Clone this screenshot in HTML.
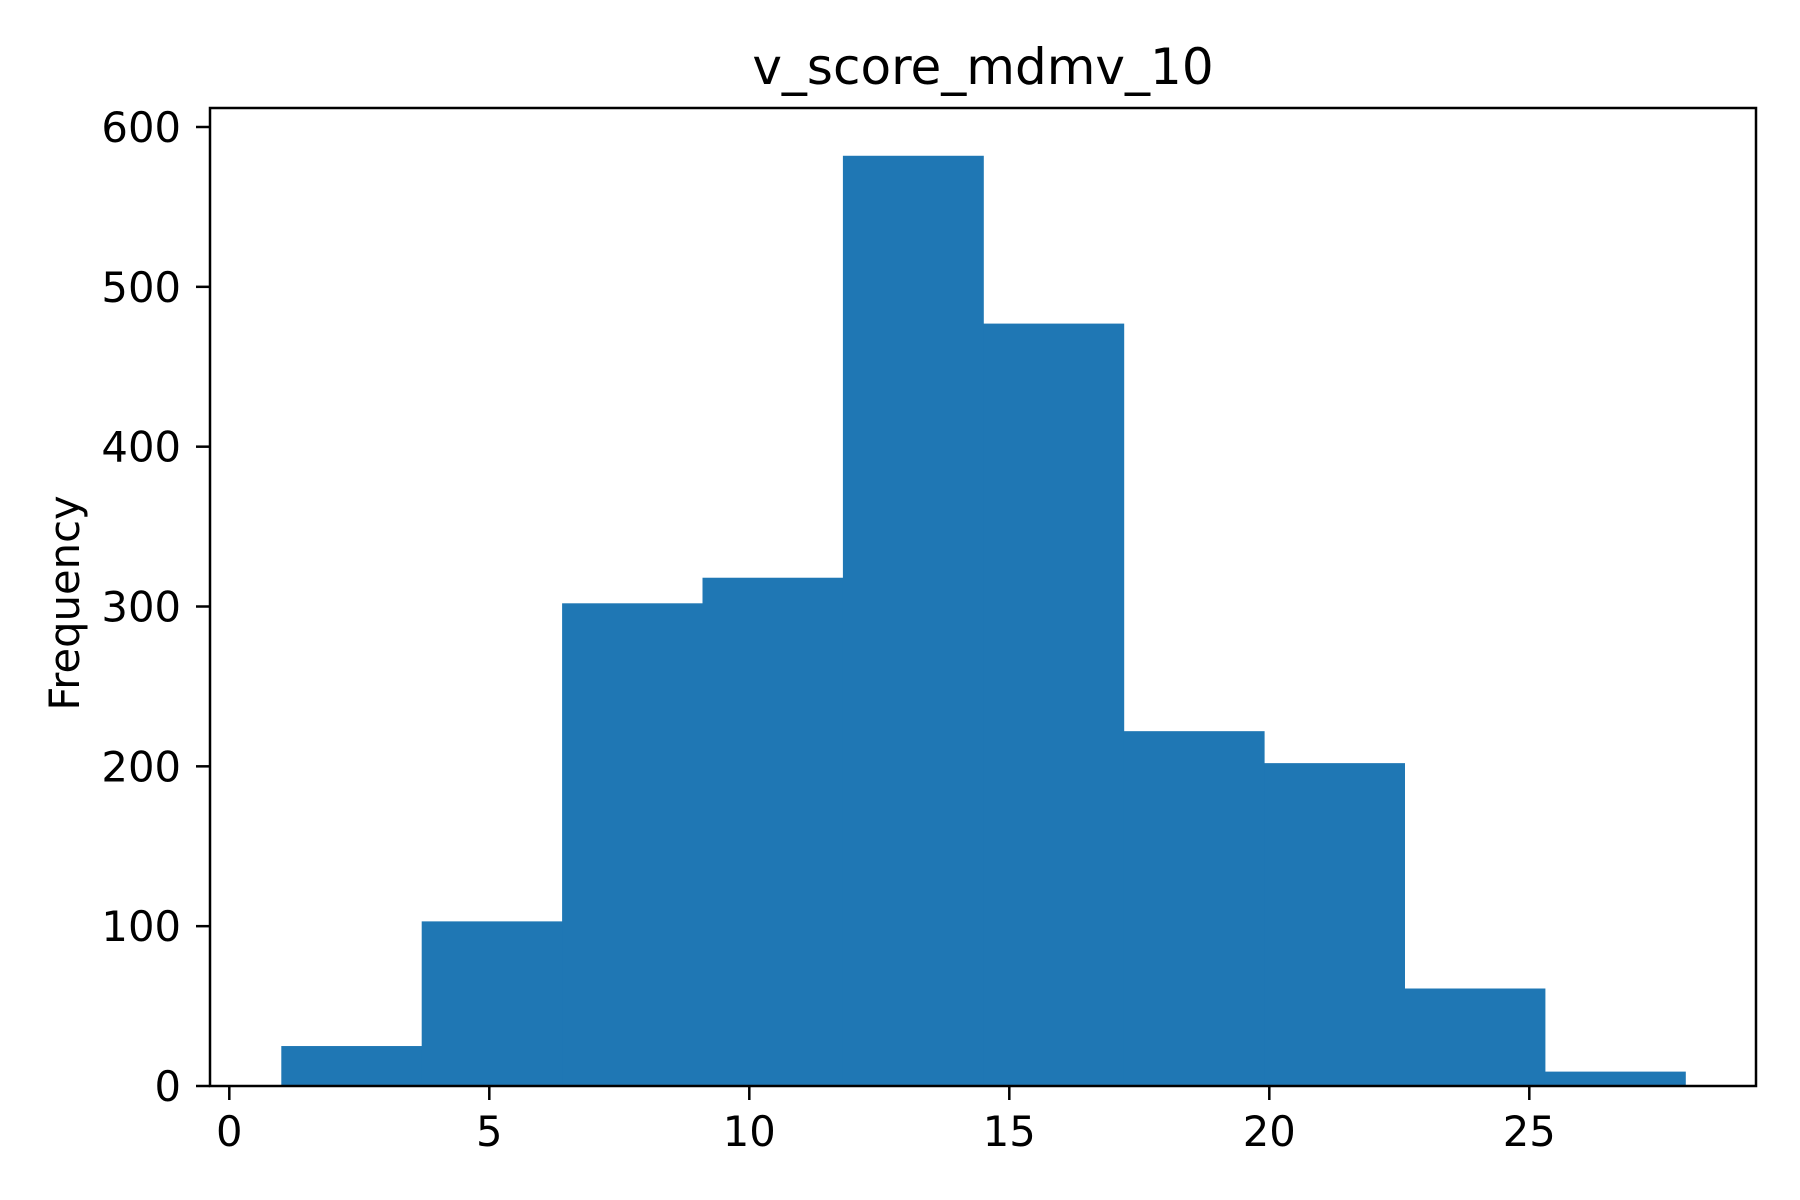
<!DOCTYPE html>
<html><head><meta charset="utf-8"><style>
html,body{margin:0;padding:0;background:#fff;}
svg{display:block;font-family:"DejaVu Sans","Liberation Sans",sans-serif;}
</style></head><body>
<svg id="chart" width="1800" height="1200" viewBox="0 0 1800 1200">
<rect x="0" y="0" width="1800" height="1200" fill="#fff"/>
<text x="983" y="84" font-size="50" text-anchor="middle">v_score_mdmv_10</text>
<text transform="translate(79,603) rotate(-90)" font-size="41.7" text-anchor="middle">Frequency</text>
<g id="bars"></g>
<g id="axes"></g>
</svg>
<script>
const binEdges = [1, 3.7, 6.4, 9.1, 11.8, 14.5, 17.2, 19.9, 22.6, 25.3, 28];
const counts = [25, 103, 302, 318, 582, 477, 222, 202, 61, 9];
const xTicks = [0, 5, 10, 15, 20, 25];
const yTicks = [0, 100, 200, 300, 400, 500, 600];

const L = 210, R = 1756, T = 108, B = 1086;
const x = v => 229.3 + (v - 0) * 52;
const y = v => B - v * (B - 127) / 600;
const NS = 'http://www.w3.org/2000/svg';
const bars = document.getElementById('bars');
const axes = document.getElementById('axes');
function mk(tag, attrs, parent) {
  const e = document.createElementNS(NS, tag);
  for (const k in attrs) e.setAttribute(k, attrs[k]);
  parent.appendChild(e);
  return e;
}
counts.forEach((c, i) => {
  const r = mk('rect', {x: x(binEdges[i]), y: y(c), width: x(binEdges[i+1]) - x(binEdges[i]) + 0.5, height: B - y(c), fill: '#1f77b4'}, bars);
  
  
});
const frame = mk('rect', {x: L, y: T, width: R - L, height: B - T, fill: 'none', stroke: '#000', 'stroke-width': 2.5}, axes);


xTicks.forEach(t => {
  const px = x(t);
  const l = mk('line', {x1: px, x2: px, y1: B, y2: B + 14, stroke: '#000', 'stroke-width': 2.5}, axes);
  
  
  const tx = mk('text', {x: px, y: 1146, 'font-size': 41.7, 'text-anchor': 'middle'}, axes);
  tx.textContent = t;
  
  
});
yTicks.forEach(t => {
  const py = y(t);
  const l = mk('line', {x1: L - 14, x2: L, y1: py, y2: py, stroke: '#000', 'stroke-width': 2.5}, axes);
  
  
  const tx = mk('text', {x: 181, y: py + 15, 'font-size': 41.7, 'text-anchor': 'end'}, axes);
  tx.textContent = t;
  
  
});
</script>
</body></html>
